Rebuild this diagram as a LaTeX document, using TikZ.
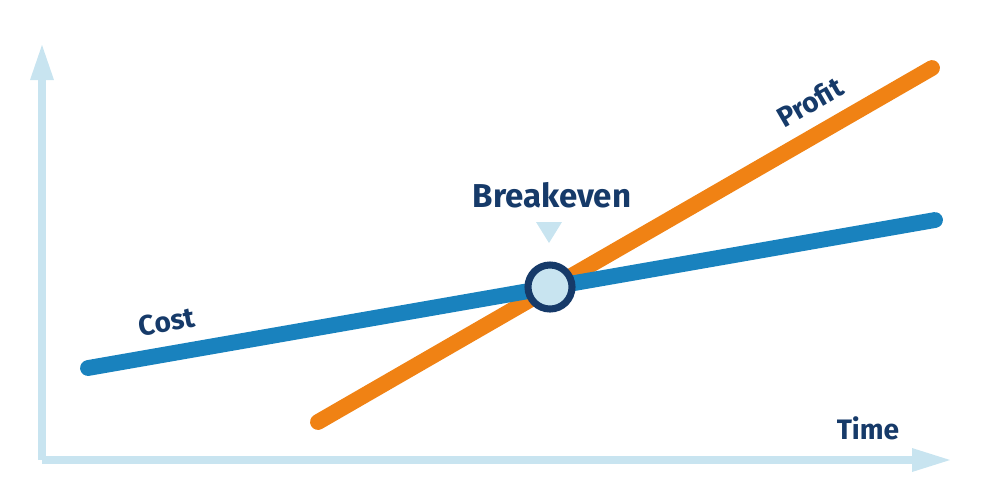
\documentclass[tikz,border=0pt]{standalone}
\usepackage{fontspec}
\setmainfont{Fira Sans}
\definecolor{axisc}{RGB}{200,228,240}
\definecolor{costc}{RGB}{25,130,190}
\definecolor{profc}{RGB}{240,130,20}
\definecolor{navy}{RGB}{22,58,105}
\tikzset{
 lbl/.style={text=navy,font=\fontsize{8}{10}\selectfont\bfseries,inner sep=0},
 axisline/.style={axisc,line width=2.3pt},
 curve/.style={line width=4.5pt,line cap=round},
}
\begin{document}
\begin{tikzpicture}[x=0.01cm,y=-0.01cm]
\useasboundingbox (0,0) rectangle (1000,502);
\coordinate (O) at (42,460);
\coordinate (Ytop) at (42,75);
\coordinate (Xend) at (915,460);
\draw[axisline] (O) -- (Ytop);
\draw[axisline] (O) -- (Xend);
\fill[axisc] (30,80) -- (42,45) -- (54,80) -- cycle;
\fill[axisc] (912,448) -- (950,460) -- (912,472) -- cycle;
\coordinate (P1) at (318,422); \coordinate (P2) at (932,68);
\coordinate (C1) at (88,368); \coordinate (C2) at (935,220);
\draw[curve,profc] (P1) -- (P2);
\draw[curve,costc] (C1) -- (C2);
\node[circle,draw=navy,fill=axisc,line width=2pt,minimum size=0.44cm,inner sep=0] (BE) at (550,287) {};
\fill[axisc] (536,222) -- (562,222) -- (549,243) -- cycle;
\node[lbl,font=\fontsize{9.4}{11}\selectfont\bfseries] (bt) at (552,195) {Breakeven};
\node[lbl,rotate=10] (ct) at (167,322) {Cost};
\node[lbl,rotate=30] (pt) at (810,102) {Profit};
\node[lbl] (tt) at (868,428) {Time};
\end{tikzpicture}
\end{document}
